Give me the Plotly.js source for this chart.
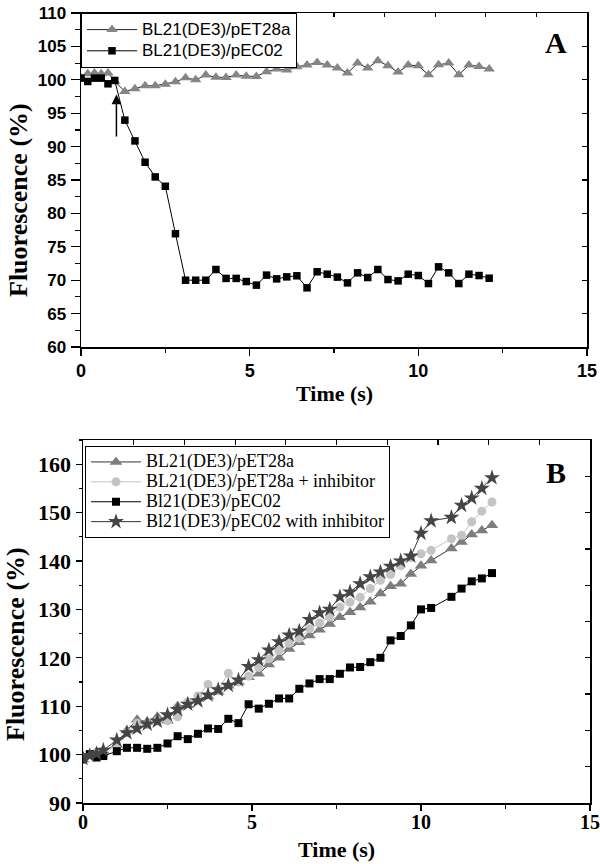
<!DOCTYPE html>
<html>
<head>
<meta charset="utf-8">
<script src="https://cdn.plot.ly/plotly-3.0.1.min.js"></script>
<style>html,body{margin:0;padding:0;background:#fff}#chart{width:600px;height:864px}</style>
</head>
<body>
<div id="chart"></div>
<script>
// ---------- Panel A data ----------
const timeA = [0, 0.2, 0.4, 0.6, 0.8, 1.0, 1.3, 1.6, 1.9, 2.2, 2.5, 2.8, 3.1, 3.4, 3.7, 4.0, 4.3, 4.6, 4.9, 5.2, 5.5, 5.8, 6.1, 6.4, 6.7, 7.0, 7.3, 7.6, 7.9, 8.2, 8.5, 8.8, 9.1, 9.4, 9.7, 10.0, 10.3, 10.6, 10.9, 11.2, 11.5, 11.8, 12.1];
const pET28aA = [100.3, 100.9, 101.0, 100.9, 101.0, 99.8, 98.25, 98.65, 99.1, 99.1, 99.35, 99.7, 100.3, 100.0, 100.7, 100.4, 100.35, 100.7, 100.55, 100.5, 101.2, 101.6, 101.45, 101.95, 102.2, 102.6, 102.2, 101.75, 101.0, 102.5, 101.75, 102.85, 102.1, 101.15, 102.2, 102.1, 100.75, 102.25, 102.5, 100.75, 102.2, 102.0, 101.6];
const pEC02A = [100.25, 99.75, 100.25, 100.25, 99.4, 99.9, 93.96, 90.85, 87.66, 85.46, 84.06, 76.96, 70.0, 70.0, 70.0, 71.6, 70.27, 70.27, 69.8, 69.26, 70.76, 70.2, 70.5, 70.66, 68.86, 71.26, 70.9, 70.46, 69.6, 71.1, 70.4, 71.6, 70.1, 69.9, 70.9, 70.7, 69.5, 72.0, 71.1, 69.5, 70.9, 70.7, 70.3];
const namesA = ["BL21(DE3)/pET28a", "BL21(DE3)/pEC02"];
const arrowA = {time: 1.05, from: 91.3, to: 97.8};

// ---------- Panel B data ----------
const timeB = [0, 0.2, 0.4, 0.6, 1.0, 1.3, 1.6, 1.9, 2.2, 2.5, 2.8, 3.1, 3.4, 3.7, 4.0, 4.3, 4.6, 4.9, 5.2, 5.5, 5.8, 6.1, 6.4, 6.7, 7.0, 7.3, 7.6, 7.9, 8.2, 8.5, 8.8, 9.1, 9.4, 9.7, 10.0, 10.3, 10.9, 11.2, 11.5, 11.8, 12.1];
const pET28aB = [99.0, 100.0, 100.4, 100.8, 102.0, 105.0, 107.2, 106.8, 107.8, 107.0, 110.0, 110.2, 111.5, 112.0, 113.0, 114.2, 115.0, 116.0, 116.7, 118.6, 120.0, 121.8, 123.2, 124.6, 125.8, 127.0, 128.4, 129.4, 130.4, 131.6, 133.3, 134.8, 135.3, 137.3, 139.0, 140.1, 142.6, 143.9, 145.5, 146.3, 147.4];
const pET28aInhB = [99.3, 100.0, 100.5, 100.8, 101.8, 104.5, 106.5, 106.2, 107.0, 107.0, 107.8, 110.9, 112.1, 114.5, 113.4, 116.8, 115.0, 116.2, 118.0, 119.8, 121.5, 123.0, 124.0, 126.0, 127.2, 128.4, 130.5, 131.5, 132.5, 134.3, 136.0, 137.2, 139.0, 140.7, 141.5, 142.2, 144.6, 145.3, 148.1, 150.3, 152.2];
const pEC02B = [99.0, 100.1, 99.4, 99.7, 100.7, 101.4, 101.4, 101.2, 101.4, 102.3, 103.8, 103.2, 104.3, 105.4, 105.3, 107.4, 106.5, 110.4, 109.5, 110.5, 111.6, 111.6, 113.6, 114.7, 115.6, 115.6, 116.7, 118.0, 118.1, 119.1, 120.0, 123.6, 124.5, 126.7, 130.0, 130.3, 132.6, 134.3, 135.8, 136.4, 137.5];
const pEC02InhB = [99.2, 99.8, 100.2, 100.9, 103.0, 104.5, 105.4, 106.3, 106.9, 108.2, 109.3, 110.4, 111.1, 112.3, 113.4, 114.3, 115.4, 118.2, 119.6, 121.6, 123.3, 124.7, 125.5, 127.9, 129.3, 130.0, 132.6, 133.6, 135.3, 136.7, 137.7, 138.9, 140.0, 141.0, 145.7, 148.3, 149.0, 151.5, 153.0, 155.0, 157.2];
const namesB = ["BL21(DE3)/pET28a", "BL21(DE3)/pET28a + inhibitor", "Bl21(DE3)/pEC02", "Bl21(DE3)/pEC02 with inhibitor"];

// ---------- styling ----------
const W = 600, H = 864;
const px = v => v / W;
const py = v => 1 - v / H;
const serifB = {family: "Liberation Serif, Times New Roman, serif", weight: 700, color: "#000"};
const sansB = {family: "Liberation Sans, Arial, sans-serif", weight: 700, color: "#000"};
const big = (s, size) => '<span style="font-size:' + size + 'px">' + s + '</span>';

const traces = [
  {x: timeA, y: pET28aA, name: big(namesA[0], 17), mode: "lines+markers", xaxis: "x", yaxis: "y", legend: "legend",
   line: {color: "#222", width: 1}, marker: {symbol: "triangle-up", size: 10, color: "#858585"}},
  {x: timeA, y: pEC02A, name: big(namesA[1], 17), mode: "lines+markers", xaxis: "x", yaxis: "y", legend: "legend",
   line: {color: "#000", width: 1}, marker: {symbol: "square", size: 7.5, color: "#000"}},
  {x: [null], y: [null], xaxis: "x2", yaxis: "y2", showlegend: false, hoverinfo: "skip", mode: "markers"},

  {x: timeB, y: pET28aB, name: big(namesB[0], 18), mode: "lines+markers", xaxis: "x3", yaxis: "y3", legend: "legend2",
   line: {color: "#333", width: 1}, marker: {symbol: "triangle-up", size: 11, color: "#7d7d7d"}},
  {x: timeB, y: pET28aInhB, name: big(namesB[1], 18), mode: "lines+markers", xaxis: "x3", yaxis: "y3", legend: "legend2",
   line: {color: "#c4c4c4", width: 1}, marker: {symbol: "circle", size: 9, color: "#c4c4c4"}},
  {x: timeB, y: pEC02B, name: big(namesB[2], 18), mode: "lines+markers", xaxis: "x3", yaxis: "y3", legend: "legend2",
   line: {color: "#000", width: 1}, marker: {symbol: "square", size: 8, color: "#000"}},
  {x: timeB, y: pEC02InhB, name: big(namesB[3], 18), mode: "lines+markers", xaxis: "x3", yaxis: "y3", legend: "legend2",
   line: {color: "#333", width: 1}, marker: {symbol: "star", size: 12, color: "#454545"}},
  {x: [null], y: [null], xaxis: "x4", yaxis: "y4", showlegend: false, hoverinfo: "skip", mode: "markers"}
];

const baseAx = {showgrid: false, zeroline: false, showline: true, linecolor: "#000", linewidth: 1.5,
  tickcolor: "#000", tickwidth: 1.2, autorange: false, fixedrange: true};
const boldTicks = {tickprefix: "<b>", ticksuffix: "</b>"};

const layout = {
  width: W, height: H,
  margin: {l: 0, r: 0, t: 0, b: 0},
  paper_bgcolor: "#fff", plot_bgcolor: "rgba(0,0,0,0)",
  showlegend: true,
  // Panel A
  xaxis: Object.assign({}, baseAx, boldTicks, {domain: [px(81), px(587)], anchor: "y", range: [0, 15],
    tickmode: "linear", tick0: 0, dtick: 5, ticks: "outside", ticklen: 7,
    minor: {dtick: 2.5, ticks: "outside", ticklen: 4, tickcolor: "#000"},
    tickfont: Object.assign({size: 18}, sansB), ticklabelstandoff: 0}),
  yaxis: Object.assign({}, baseAx, boldTicks, {domain: [py(347), py(13)], anchor: "x", range: [60, 110],
    tickmode: "linear", tick0: 60, dtick: 5, ticks: "outside", ticklen: 9,
    minor: {dtick: 2.5, ticks: "outside", ticklen: 5, tickcolor: "#000"},
    tickfont: Object.assign({size: 17}, sansB), ticklabelstandoff: 1}),
  xaxis2: Object.assign({}, baseAx, {overlaying: "x", anchor: "y2", side: "top", range: [0, 15],
    tickmode: "linear", tick0: 0, dtick: 1.5, ticks: "inside", ticklen: 4, showticklabels: false}),
  yaxis2: Object.assign({}, baseAx, {overlaying: "y", anchor: "x2", side: "right", range: [60, 110],
    tickmode: "linear", tick0: 60, dtick: 5, ticks: "inside", ticklen: 5, showticklabels: false}),
  // Panel B
  xaxis3: Object.assign({}, baseAx, boldTicks, {domain: [px(83), px(590)], anchor: "y3", range: [0, 15],
    tickmode: "linear", tick0: 0, dtick: 5, ticks: "outside", ticklen: 6,
    minor: {dtick: 2.5, ticks: "outside", ticklen: 4, tickcolor: "#000"},
    tickfont: Object.assign({size: 20}, serifB), ticklabelstandoff: -6}),
  yaxis3: Object.assign({}, baseAx, boldTicks, {domain: [py(803), py(440)], anchor: "x3", range: [90, 165],
    tickmode: "linear", tick0: 90, dtick: 10, ticks: "outside", ticklen: 6,
    minor: {dtick: 5, ticks: "outside", ticklen: 3, tickcolor: "#000"},
    tickfont: Object.assign({size: 22}, serifB), ticklabelstandoff: 0}),
  xaxis4: Object.assign({}, baseAx, {overlaying: "x3", anchor: "y4", side: "top", range: [0, 15],
    tickmode: "linear", tick0: 0, dtick: 1.5, ticks: "inside", ticklen: 5, showticklabels: false}),
  yaxis4: Object.assign({}, baseAx, {overlaying: "y3", anchor: "x4", side: "right", range: [90, 165],
    tickmode: "linear", tick0: 90, dtick: 7.5, ticks: "inside", ticklen: 5, showticklabels: false}),
  legend: {x: px(81), y: py(13), xanchor: "left", yanchor: "top", bgcolor: "#fff",
    bordercolor: "#000", borderwidth: 1, itemwidth: 50, tracegroupgap: 0,
    font: {family: "Liberation Sans, Arial, sans-serif", size: 14, color: "#000"}},
  legend2: {x: px(85), y: py(446), xanchor: "left", yanchor: "top", bgcolor: "#fff",
    bordercolor: "#000", borderwidth: 1, itemwidth: 50, tracegroupgap: 0,
    font: {family: "Liberation Serif, Times New Roman, serif", size: 13, color: "#000"}},
  annotations: [
    {x: arrowA.time, y: arrowA.to, ax: arrowA.time, ay: arrowA.from, xref: "x", yref: "y", axref: "x", ayref: "y",
     text: "", showarrow: true, arrowhead: 2, arrowsize: 1.3, arrowwidth: 1.5, arrowcolor: "#000"},
    {x: px(556), y: py(42), xref: "paper", yref: "paper", xanchor: "center", yanchor: "middle", text: "A", showarrow: false,
     font: Object.assign({size: 30}, serifB)},
    {x: px(556), y: py(472), xref: "paper", yref: "paper", xanchor: "center", yanchor: "middle", text: "B", showarrow: false,
     font: Object.assign({size: 30}, serifB)},
    {x: px(334), y: py(393), xref: "paper", yref: "paper", xanchor: "center", yanchor: "middle", text: "Time (s)", showarrow: false,
     font: Object.assign({size: 22}, serifB)},
    {x: px(336), y: py(849), xref: "paper", yref: "paper", xanchor: "center", yanchor: "middle", text: "Time (s)", showarrow: false,
     font: Object.assign({size: 22}, serifB)},
    {x: px(18), y: py(200), xref: "paper", yref: "paper", xanchor: "center", yanchor: "middle", text: "Fluorescence (%)", textangle: -90, showarrow: false,
     font: Object.assign({size: 26}, serifB)},
    {x: px(15), y: py(644), xref: "paper", yref: "paper", xanchor: "center", yanchor: "middle", text: "Fluorescence (%)", textangle: -90, showarrow: false,
     font: Object.assign({size: 26}, serifB)}
  ]
};

Plotly.newPlot("chart", traces, layout, {staticPlot: true, displayModeBar: false});
</script>
</body>
</html>
